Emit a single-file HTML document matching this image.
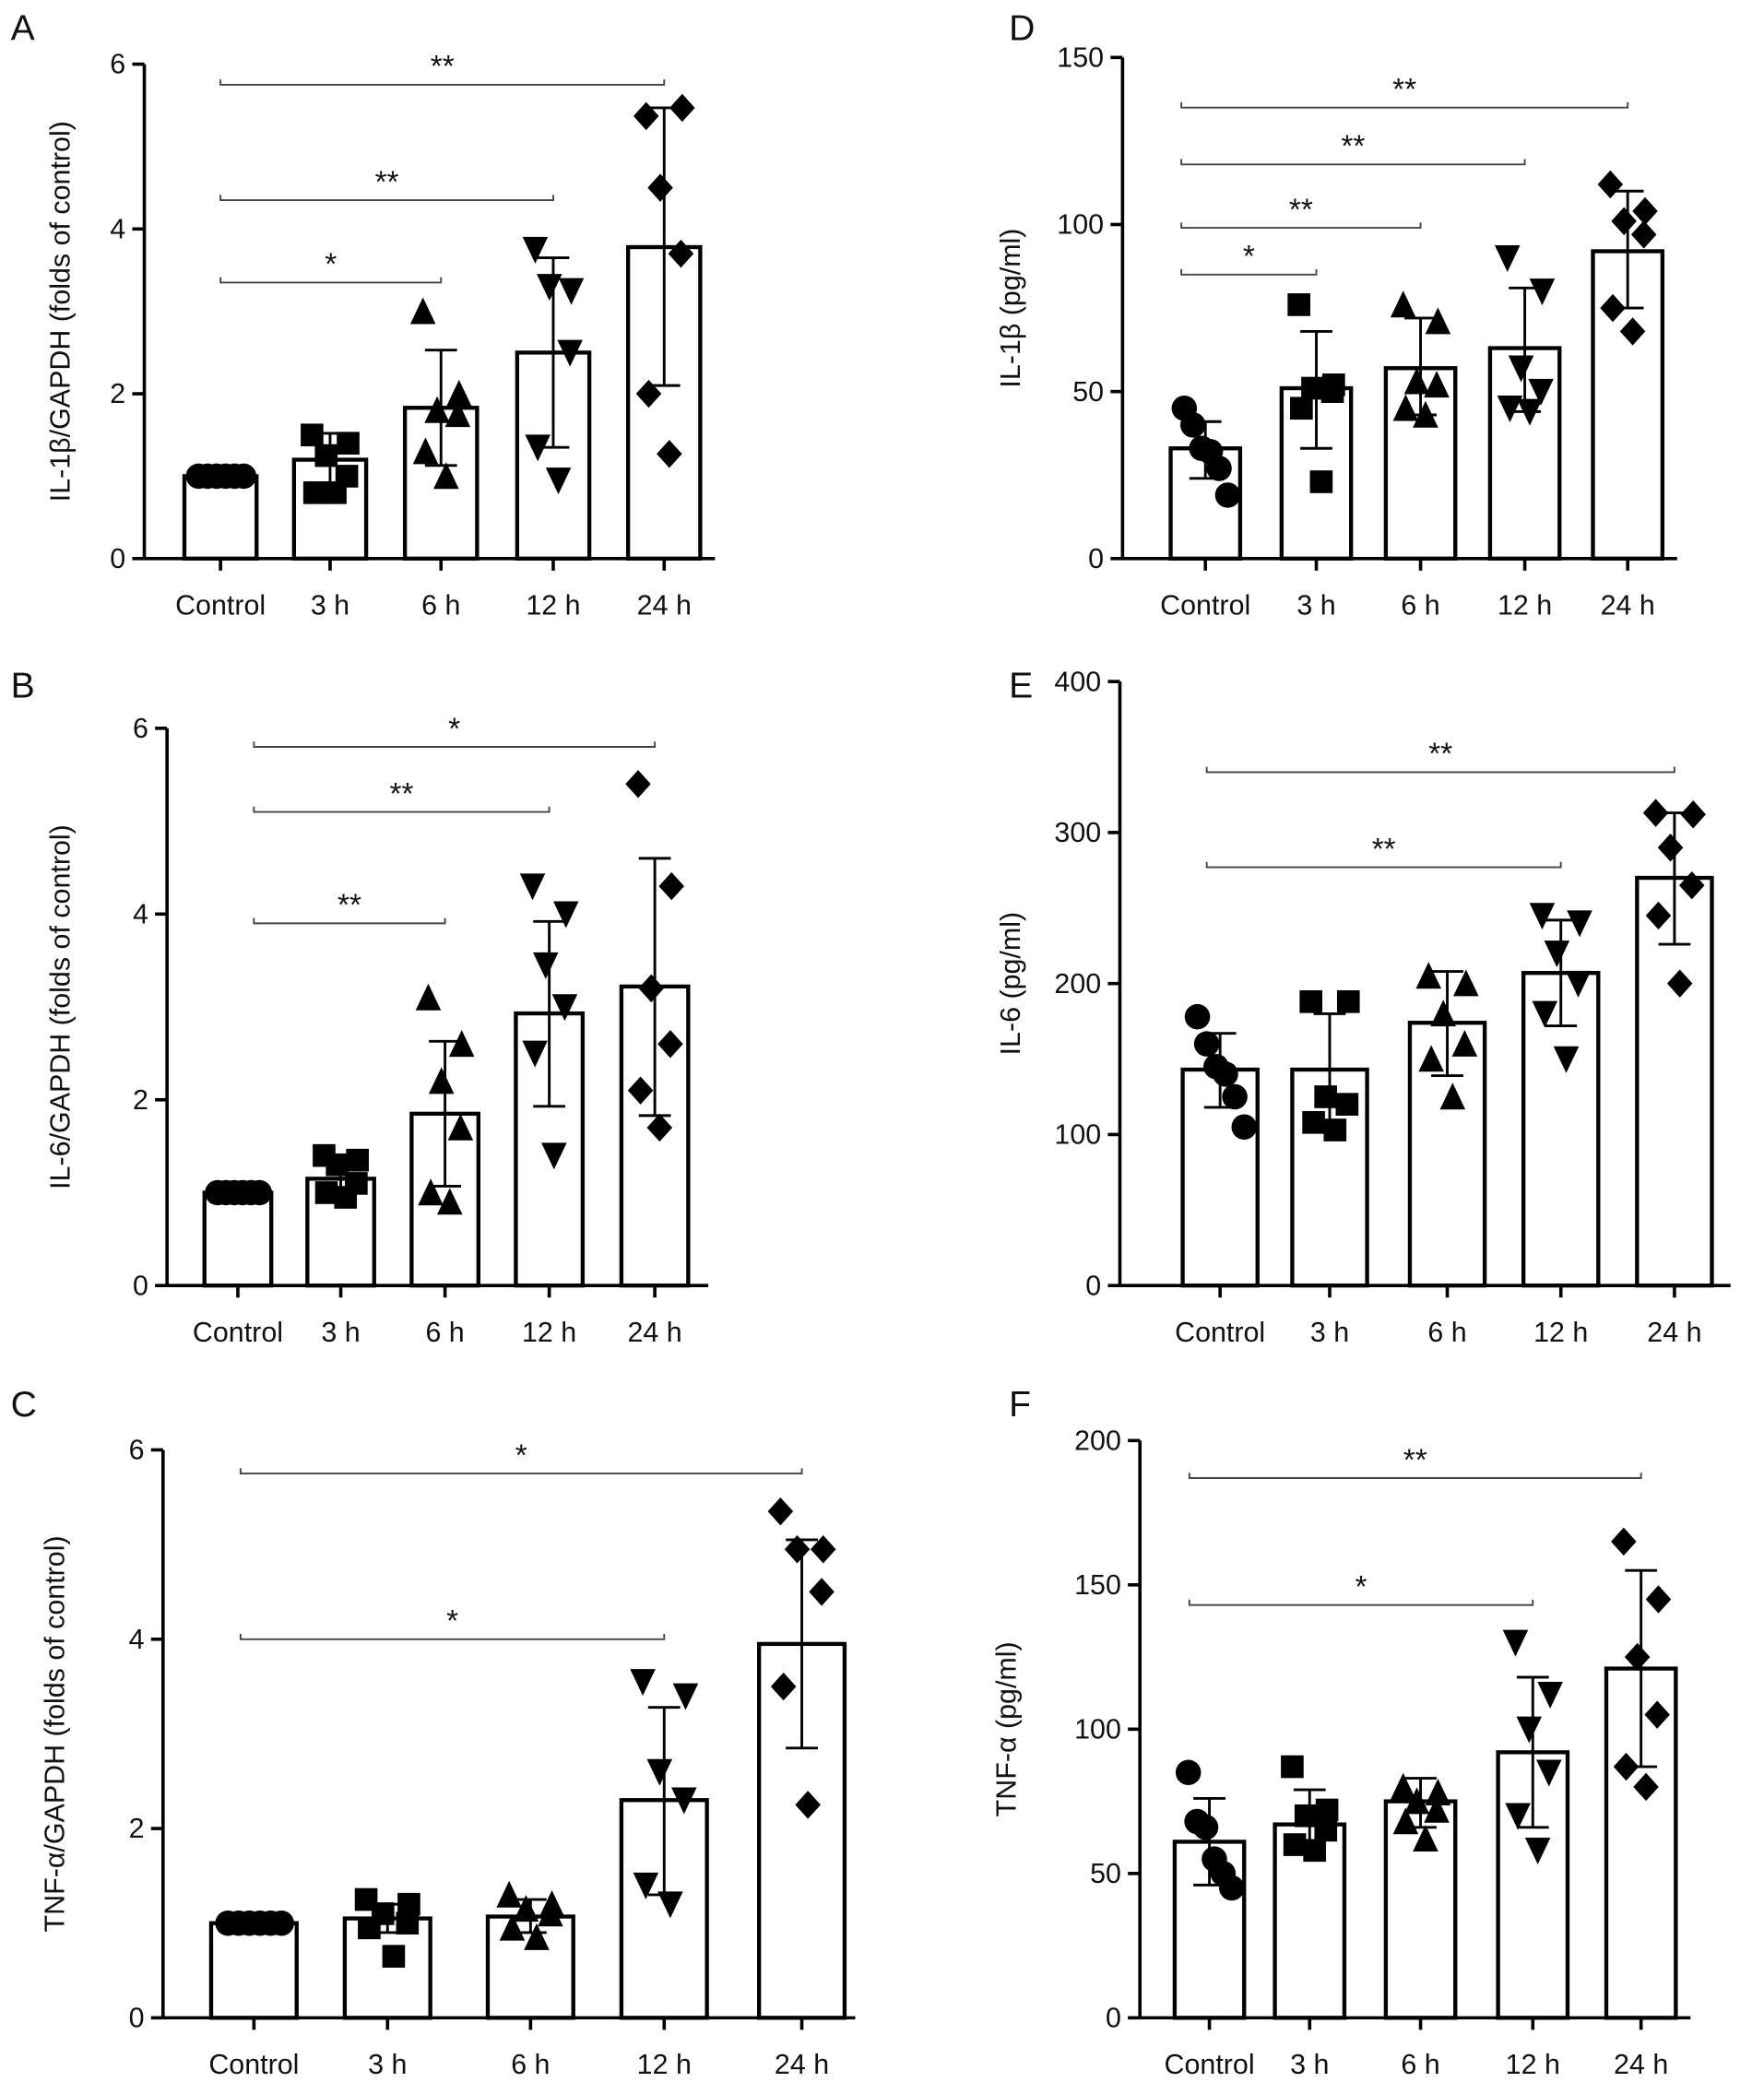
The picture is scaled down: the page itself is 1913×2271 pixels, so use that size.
<!DOCTYPE html>
<html><head><meta charset="utf-8">
<style>
html,body{margin:0;padding:0;background:#fff}
svg{display:block}
text{font-family:"Liberation Sans",sans-serif;fill:#111}
</style></head>
<body>
<svg id="fig" width="1913" height="2271" viewBox="0 0 1320 1567" xmlns="http://www.w3.org/2000/svg"></svg>
<script>
const categories=["Control","3 h","6 h","12 h","24 h"];
const markerShapes=["circle","square","up","down","diamond"];
// Panel A
const aMeans=[1,1.2,1.83,2.5,3.78];
const aErrLo=[1,0.85,1.13,1.35,2.1];
const aErrHi=[1,1.52,2.53,3.65,5.47];
const aPoints=[[1,1,1,1,1,1],[1.5,1.4,1.25,1.0,0.8,0.8],[3.0,2.0,1.8,1.75,1.3,1.0],[3.75,3.25,3.3,2.5,1.35,0.95],[5.37,5.47,4.5,3.7,2.0,1.27]];
const aTicks=[0,2,4,6];
const aSig=[[2,3.35,"*"],[3,4.35,"**"],[4,5.75,"**"]];
// Panel D
const dMeans=[33,51,57,63,92];
const dErrLo=[24,33,43,44,75];
const dErrHi=[41,68,72,81,110];
const dPoints=[[45,40,33,32,27,19],[76,52,51,50,45,23],[76,71,53,52,45,43],[90,80,57,50,45,44],[112,104,101,97,75,68]];
const dTicks=[0,50,100,150];
const dSig=[[1,85,"*"],[2,99,"**"],[3,118,"**"],[4,135,"**"]];
// Panel B
const bMeans=[1,1.15,1.85,2.93,3.22];
const bErrLo=[1,0.95,1.07,1.93,1.83];
const bErrHi=[1,1.35,2.63,3.92,4.6];
const bPoints=[[1,1,1,1,1,1],[1.4,1.35,1.3,1.1,1.0,0.95],[3.1,2.6,2.2,1.7,1.0,0.9],[4.3,4.0,3.45,3.0,2.5,1.4],[5.4,4.3,3.2,2.6,2.1,1.7]];
const bTicks=[0,2,4,6];
const bSig=[[2,3.9,"**"],[3,5.1,"**"],[4,5.8,"*"]];
// Panel E
const eMeans=[143,143,174,207,270];
const eErrLo=[118,106,139,172,226];
const eErrHi=[167,180,208,242,313];
const ePoints=[[178,160,145,140,125,105],[188,188,125,120,108,103],[205,200,180,160,150,125],[245,240,220,200,180,150],[313,312,290,265,245,200]];
const eTicks=[0,100,200,300,400];
const eSig=[[3,277,"**"],[4,340,"**"]];
// Panel C
const cMeans=[1,1.05,1.07,2.3,3.95];
const cErrLo=[1,0.9,0.9,1.3,2.85];
const cErrHi=[1,1.2,1.25,3.28,5.05];
const cPoints=[[1,1,1,1,1,1],[1.25,1.2,1.1,1.0,0.95,0.65],[1.3,1.2,1.15,1.1,0.95,0.85],[3.55,3.4,2.6,2.3,1.4,1.2],[5.35,4.95,4.95,4.5,3.5,2.25]];
const cTicks=[0,2,4,6];
const cSig=[[3,4.0,"*"],[4,5.75,"*"]];
// Panel F
const fMeans=[61,67,75,92,121];
const fErrLo=[46,57,66,66,87];
const fErrHi=[76,79,83,118,155];
const fPoints=[[85,68,66,55,50,45],[87,72,70,65,60,58],[80,78,75,72,68,62],[130,112,100,85,70,58],[165,145,125,105,87,80]];
const fTicks=[0,50,100,150,200];
const fSig=[[3,143,"*"],[4,187,"**"]];

const svg=document.getElementById('fig');
const NS="http://www.w3.org/2000/svg";
function mk(tag,attrs,parent){const e=document.createElementNS(NS,tag);for(const k in attrs)e.setAttribute(k,attrs[k]);(parent||svg).appendChild(e);return e;}

function panel(cfg){
  const g=mk('g',{});
  
  
  const ymax=cfg.ticks[cfg.ticks.length-1];
  const y=v=>cfg.y0-(v/ymax)*(cfg.y0-cfg.yTop);
  const x=i=>cfg.xs[i];
  const lt=mk('text',{x:cfg.lx,y:cfg.ly,'font-size':27},g);lt.textContent=cfg.letter;
  
  
  const ya=mk('line',{x1:cfg.ax,y1:cfg.y0,x2:cfg.ax,y2:cfg.yTop,stroke:'#000','stroke-width':2.5},g);
  
  
  const xa=mk('line',{x1:cfg.ax,y1:cfg.y0,x2:cfg.xEnd,y2:cfg.y0,stroke:'#000','stroke-width':2.5},g);
  
  
  cfg.ticks.forEach(t=>{
    mk('line',{x1:cfg.ax-9,y1:y(t),x2:cfg.ax,y2:y(t),stroke:'#000','stroke-width':2.5},g);
    const tt=mk('text',{x:cfg.ax-14,y:y(t)+7,'font-size':21,'text-anchor':'end'},g);tt.textContent=t;
    
    
  });
  const yl=mk('text',{x:0,y:0,'font-size':21,'text-anchor':'middle',transform:`translate(${cfg.ylx},${(cfg.y0+cfg.yTop)/2}) rotate(-90)`},g);
  yl.textContent=cfg.ylabel;
  
  
  categories.forEach((c,i)=>{
    mk('line',{x1:x(i),y1:cfg.y0,x2:x(i),y2:cfg.y0+9,stroke:'#000','stroke-width':2.5},g);
    const tl=mk('text',{x:x(i),y:cfg.y0+42,'font-size':21,'text-anchor':'middle'},g);tl.textContent=c;
    
    
    const bw=cfg.bw;
    const bar=mk('rect',{x:x(i)-bw/2,y:y(cfg.means[i]),width:bw,height:cfg.y0-y(cfg.means[i]),fill:'#fff',stroke:'#000','stroke-width':3},g);
    
    
    const offs=i===0?[-17,-10,-3,4,11,18]:[-14,14,-3,13,-12,4];
    cfg.points[i].forEach((v,j)=>{
      const px=x(i)+offs[j]*cfg.bw/56, py=y(v), s=9.5;
      const sh=markerShapes[i];let m;
      if(sh==='circle')m=mk('circle',{cx:px,cy:py,r:s},g);
      else if(sh==='square')m=mk('rect',{x:px-s+1,y:py-s+1,width:2*s-2,height:2*s-2},g);
      else if(sh==='up')m=mk('polygon',{points:`${px},${py-s-1} ${px-s},${py+s} ${px+s},${py+s}`},g);
      else if(sh==='down')m=mk('polygon',{points:`${px},${py+s+1} ${px-s},${py-s} ${px+s},${py-s}`},g);
      else m=mk('polygon',{points:`${px},${py-s-1} ${px+s},${py} ${px},${py+s+1} ${px-s},${py}`},g);
      m.setAttribute('fill','#000');
      
      
    });
    const lo=y(cfg.lo[i]),hi=y(cfg.hi[i]);
    const eb=mk('path',{d:`M${x(i)},${lo}V${hi}M${x(i)-12},${lo}H${x(i)+12}M${x(i)-12},${hi}H${x(i)+12}`,stroke:'#000','stroke-width':2,fill:'none'},g);
    
    
  });
  cfg.sig.forEach(s=>{
    const yy=y(s[1]);
    const bs=cfg.bs;
    const br=mk('path',{d:`M${bs},${yy-4}V${yy}H${x(s[0])}V${yy-4}`,stroke:'#444','stroke-width':1.3,fill:'none'},g);
    
    
    const st=mk('text',{x:(bs+x(s[0]))/2,y:yy-6,'font-size':23,'text-anchor':'middle'},g);st.textContent=s[2];
    
    
  });
}
panel({letter:'A',lx:8,ly:30,ax:108,y0:418,yTop:48,xEnd:535,bs:165,xs:[165,247,330,414,497],bw:54,ylx:52,ylabel:'IL-1β/GAPDH (folds of control)',means:aMeans,lo:aErrLo,hi:aErrHi,points:aPoints,ticks:aTicks,sig:aSig});
panel({letter:'D',lx:755,ly:30,ax:840,y0:418,yTop:43,xEnd:1255,bs:884,xs:[902,985,1063,1141,1218],bw:52,ylx:763,ylabel:'IL-1β (pg/ml)',means:dMeans,lo:dErrLo,hi:dErrHi,points:dPoints,ticks:dTicks,sig:dSig});
panel({letter:'B',lx:8,ly:522,ax:125,y0:962,yTop:545,xEnd:530,bs:190,xs:[178,255,333,411,490],bw:50,ylx:52,ylabel:'IL-6/GAPDH (folds of control)',means:bMeans,lo:bErrLo,hi:bErrHi,points:bPoints,ticks:bTicks,sig:bSig});
panel({letter:'E',lx:755,ly:522,ax:838,y0:962,yTop:510,xEnd:1295,bs:903,xs:[913,995,1083,1168,1253],bw:56,ylx:763,ylabel:'IL-6 (pg/ml)',means:eMeans,lo:eErrLo,hi:eErrHi,points:ePoints,ticks:eTicks,sig:eSig});
panel({letter:'C',lx:8,ly:1060,ax:122,y0:1510,yTop:1085,xEnd:640,bs:180,xs:[190,290,397,497,600],bw:64,ylx:48,ylabel:'TNF-α/GAPDH (folds of control)',means:cMeans,lo:cErrLo,hi:cErrHi,points:cPoints,ticks:cTicks,sig:cSig});
panel({letter:'F',lx:755,ly:1060,ax:853,y0:1510,yTop:1078,xEnd:1265,bs:890,xs:[905,980,1063,1147,1228],bw:52,ylx:760,ylabel:'TNF-α (pg/ml)',means:fMeans,lo:fErrLo,hi:fErrHi,points:fPoints,ticks:fTicks,sig:fSig});
</script>
</body></html>
